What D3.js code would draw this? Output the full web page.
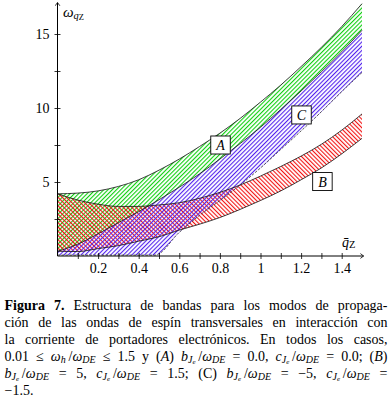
<!DOCTYPE html>
<html>
<head>
<meta charset="utf-8">
<script src="https://cdn.jsdelivr.net/npm/d3@7"></script>
<style>
  body { margin: 0; background: #fff; }
  svg { display: block; }
  text { font-family: "Liberation Serif", "DejaVu Serif", serif; }
</style>
</head>
<body>
<div id="chart"></div>
<script>
// band edges, omega_qZ against qZ
const qGrid  = [0, 0.1, 0.2, 0.3, 0.4, 0.5, 0.6, 0.7, 0.8, 0.9, 1.0, 1.1, 1.2, 1.3, 1.4, 1.5];
const aUpper = [4.2, 4.25, 4.4, 4.7, 5.15, 5.8, 6.55, 7.4, 8.3, 9.3, 10.4, 11.55, 12.8, 14.1, 15.5, 17.05];
const aLower = [0.32, 0.8, 1.5, 2.25, 3.0, 3.8, 4.65, 5.55, 6.55, 7.6, 8.7, 9.9, 11.15, 12.45, 13.8, 15.25]; // also top of band C
const bUpper = [4.2, 3.78, 3.5, 3.35, 3.35, 3.45, 3.6, 3.9, 4.3, 4.8, 5.4, 6.05, 6.75, 7.55, 8.5, 9.6];
const bLower = [0.32, 0.3, 0.5, 0.7, 1.0, 1.3, 1.75, 2.15, 2.6, 3.15, 3.75, 4.4, 5.15, 5.95, 6.9, 7.95];
const cLowerQ = [0, 0.1, 0.2, 0.3, 0.4, 0.48, 0.6, 0.7, 0.8, 0.9, 1.0, 1.1, 1.2, 1.3, 1.4, 1.5];
const cLower  = [0.06, 0.06, 0.06, 0.06, 0.06, 0.06, 1.6, 2.75, 3.75, 4.8, 5.95, 7.2, 8.45, 9.75, 11.1, 12.4];

const xMinorTicks = [0.1, 0.2, 0.3, 0.4, 0.5, 0.6, 0.7, 0.8, 0.9, 1.0, 1.1, 1.2, 1.3, 1.4];
const xTickLabels = [0.2, 0.4, 0.6, 0.8, 1, 1.2, 1.4];
const yMinorTicks = [2.5, 5, 7.5, 10, 12.5, 15];
const yTickLabels = [5, 10, 15];

const W = 392, H = 397;

const svg = d3.select("#chart").append("svg")
    .attr("width", W)
    .attr("height", H);

const x = d3.scaleLinear().domain([0, 1.5]).range([57.5, 362]);
const y = d3.scaleLinear().domain([0, 17]).range([256, 4.4]);

// hatch patterns: a thin bar in a rotated tile
const defs = svg.append("defs");
function hatch(id, color, angle) {
  const p = defs.append("pattern")
      .attr("id", id)
      .attr("patternUnits", "userSpaceOnUse")
      .attr("width", 3)
      .attr("height", 3)
      .attr("patternTransform", `rotate(${angle})`);
  p.append("rect")
      .attr("x", 0).attr("y", 0)
      .attr("width", 1.1).attr("height", 3)
      .style("fill", color);
}
hatch("hatchA", "#0fcf0f", 45);
hatch("hatchB", "#f21414", -45);
hatch("hatchC", "#5526ee", 45);

defs.append("marker")
    .attr("id", "arrow")
    .attr("markerUnits", "userSpaceOnUse")
    .attr("viewBox", "-4 -3 5 6")
    .attr("refX", 0).attr("refY", 0)
    .attr("markerWidth", 5).attr("markerHeight", 6)
    .attr("orient", "auto")
  .append("path")
    .attr("d", "M-3.2,-2.4 L0,0 L-3.2,2.4")
    .attr("fill", "none")
    .attr("stroke", "#000")
    .attr("stroke-width", 0.8);

const pts = (qs, ws) => qs.map((q, i) => [x(q), y(ws[i])]);
const line = d3.line().curve(d3.curveMonotoneX);

// closed band between an upper and a lower edge
function bandPath(up, lo) {
  const top = line(up);
  const bottom = line(lo.slice().reverse());
  return top + "L" + bottom.slice(1) + "Z";
}

const A_up = pts(qGrid, aUpper), A_lo = pts(qGrid, aLower);
const B_up = pts(qGrid, bUpper), B_lo = pts(qGrid, bLower);
const C_lo = pts(cLowerQ, cLower);

svg.append("path").attr("d", bandPath(A_up, A_lo)).style("fill", "url(#hatchA)");
svg.append("path").attr("d", bandPath(B_up, B_lo)).style("fill", "url(#hatchB)");
svg.append("path").attr("d", bandPath(A_lo, C_lo)).style("fill", "url(#hatchC)");

// edges
[A_up, A_lo, B_up, B_lo].forEach(p => {
  svg.append("path")
      .attr("d", line(p))
      .attr("fill", "none")
      .attr("stroke", "#111")
      .attr("stroke-width", 0.8);
});
svg.append("path")
    .attr("d", line(C_lo))
    .attr("fill", "none")
    .attr("stroke", "#333")
    .attr("stroke-width", 0.8)
    .attr("stroke-dasharray", "2.5,1.5");

// axes
svg.append("g")
    .attr("transform", `translate(0,${y(0) - 3})`)
    .call(d3.axisBottom(x).tickValues(xMinorTicks).tickSize(6).tickSizeOuter(0).tickFormat(""))
    .call(g => g.select(".domain").remove())
    .selectAll("line").attr("stroke-width", 0.8);

svg.append("g")
    .attr("transform", `translate(${x(0) + 3},0)`)
    .call(d3.axisLeft(y).tickValues(yMinorTicks).tickSize(6).tickSizeOuter(0).tickFormat(""))
    .call(g => g.select(".domain").remove())
    .selectAll("line").attr("stroke-width", 0.8);

svg.append("g")
    .attr("transform", `translate(0,${y(0)})`)
    .call(d3.axisBottom(x).tickValues(xTickLabels).tickSize(0).tickPadding(7).tickFormat(d => String(d)))
    .call(g => g.select(".domain").remove())
    .selectAll("text")
      .attr("font-size", 14)
      .attr("fill", "#000");

svg.append("g")
    .attr("transform", `translate(${x(0)},0)`)
    .call(d3.axisLeft(y).tickValues(yTickLabels).tickSize(0).tickPadding(8))
    .call(g => g.select(".domain").remove())
    .selectAll("text")
      .attr("font-size", 14)
      .attr("fill", "#000");

svg.append("line")
    .attr("x1", x(0)).attr("y1", y(0))
    .attr("x2", x(0)).attr("y2", 2.6)
    .attr("stroke", "#000").attr("stroke-width", 1)
    .attr("marker-end", "url(#arrow)");
svg.append("line")
    .attr("x1", x(0)).attr("y1", y(0))
    .attr("x2", 363.6).attr("y2", y(0))
    .attr("stroke", "#000").attr("stroke-width", 1)
    .attr("marker-end", "url(#arrow)");

// axis titles
const yt = svg.append("text").attr("x", 63).attr("y", 17).attr("font-style", "italic");
yt.append("tspan").attr("font-size", 15).text("ω");
yt.append("tspan").attr("font-size", 10.5).attr("dy", 2).text("q");
yt.append("tspan").attr("font-size", 8.5).attr("dy", 0.5).attr("font-style", "normal").text("Z");

const xt = svg.append("text").attr("x", 342).attr("y", 247).attr("font-style", "italic");
xt.append("tspan").attr("font-size", 14).text("q\u0304");
xt.append("tspan").attr("font-size", 10.5).attr("dy", 1).attr("font-style", "normal").text("Z");

// band labels
[["A", 0.803, 7.5], ["C", 1.202, 9.53], ["B", 1.305, 5.03]].forEach(([name, q, w]) => {
  const cx = x(q), cy = y(w);
  svg.append("rect")
      .attr("x", cx - 9.75).attr("y", cy - 9)
      .attr("width", 19.5).attr("height", 18)
      .attr("fill", "#fff")
      .attr("stroke", "#000")
      .attr("stroke-width", 0.9);
  svg.append("text")
      .attr("x", cx).attr("y", cy + 5)
      .attr("text-anchor", "middle")
      .attr("font-size", 14)
      .attr("font-style", "italic")
      .text(name);
});

// caption, justified by stretching the word spaces
function richLine(segs, yb, len) {
  const t = svg.append("text").attr("x", 4.5).attr("y", yb);
  const off = [0, 2.3, 3.0], size = [14, 10, 7];
  let level = 0;
  segs.forEach(([s, st]) => {
    const lv = st === "s" ? 1 : st === "ss" ? 2 : 0;
    const ts = t.append("tspan")
        .attr("dy", off[lv] - off[level])
        .attr("font-size", size[lv])
        .attr("data-size", size[lv])
        .text(s);
    if (st === "b") ts.attr("font-weight", "bold");
    else if (st) ts.attr("font-style", "italic");
    level = lv;
  });
  if (!len) return;
  let w = t.node().getComputedTextLength();
  if (w > len) {
    const k = len / w;
    t.selectAll("tspan").attr("font-size", function() { return +this.getAttribute("data-size") * k; });
    w = t.node().getComputedTextLength();
  }
  const spaces = (t.text().match(/ /g) || []).length;
  if (spaces && w < len) t.attr("word-spacing", (len - w) / spaces);
}

const bJ = [["b", "i"], ["J", "s"], ["e", "ss"], ["\u2009/", ""], ["ω", "i"], ["DE", "s"]];
const cJ = [["c", "i"], ["J", "s"], ["e", "ss"], ["\u2009/", ""], ["ω", "i"], ["DE", "s"]];
const lh = 17.1, y0 = 309.5;
richLine([["Figura 7.", "b"], [" Estructura de bandas para los modos de propaga-", ""]], y0, 383);
richLine([["ción de las ondas de espín transversales en interacción con", ""]], y0 + lh, 383);
richLine([["la corriente de portadores electrónicos. En todos los casos,", ""]], y0 + 2 * lh, 383);
richLine([["0.01 ≤ ", ""], ["ω", "i"], ["h", "s"], ["\u2009/", ""], ["ω", "i"], ["DE", "s"],
          [" ≤ 1.5 y (", ""], ["A", "i"], [") ", ""], ...bJ, [" = 0.0, ", ""], ...cJ,
          [" = 0.0; (", ""], ["B", "i"], [")", ""]], y0 + 3 * lh, 383);
richLine([...bJ, [" = 5, ", ""], ...cJ, [" = 1.5; (C) ", ""], ...bJ, [" = −5, ", ""], ...cJ,
          [" =", ""]], y0 + 4 * lh, 383);
richLine([["−1.5.", ""]], y0 + 5 * lh);
</script>
</body>
</html>
